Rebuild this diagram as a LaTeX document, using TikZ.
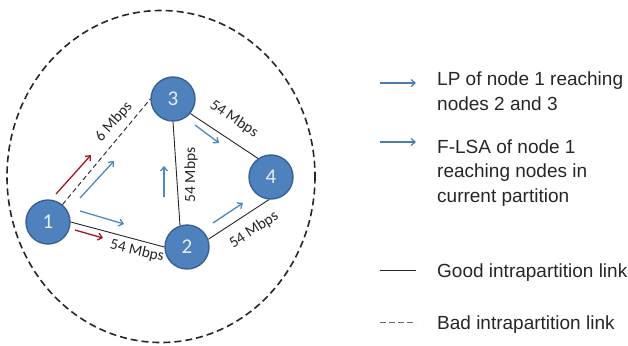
\documentclass[tikz,border=0pt]{standalone}
\usepackage{fontspec}
\setmainfont{Liberation Sans}
\newfontfamily\calib{Carlito}
\usetikzlibrary{arrows.meta}
\definecolor{nodefill}{RGB}{79,129,189}
\definecolor{nodedraw}{RGB}{56,98,148}
\definecolor{arrblue}{RGB}{74,138,190}
\definecolor{legblue}{RGB}{74,126,170}
\definecolor{arrred}{RGB}{170,20,30}
\definecolor{numcol}{RGB}{232,238,246}
\tikzset{
  netnode/.style={circle, minimum size=44pt, inner sep=0pt, fill=nodefill, draw=nodedraw, line width=1.4pt,
    font=\calib\fontsize{21}{21}\selectfont, text=numcol},
  goodlink/.style={draw=black!85, line width=0.9pt},
  badlink/.style={draw=black!85, line width=0.9pt, dash pattern=on 5pt off 3pt},
  lbl/.style={font=\calib\fontsize{15.5}{15.5}\selectfont, text=black!85, inner sep=0pt},
  bluearr/.style={draw=arrblue, line width=1.3pt, -{Straight Barb[length=4pt,width=7pt]}},
  redarr/.style={draw=arrred, line width=1.3pt, -{Straight Barb[length=4pt,width=7pt]}},
  legarr/.style={draw=legblue, line width=1.2pt, -{Straight Barb[length=4pt,width=7pt]}},
  legtxt/.style={font=\fontsize{19}{24.5}\selectfont, text=black!85, inner sep=0pt, anchor=base west, align=left},
}
\begin{document}
\begin{tikzpicture}[x=1pt,y=-1pt]
\useasboundingbox (0,0) rectangle (628,345);
% partition boundary
\draw[black!85, line width=1.6pt, dash pattern=on 7pt off 4pt] (161,176.5) ellipse [x radius=154, y radius=166];
% nodes
\node[netnode] (n1) at (48,222) {1};
\node[netnode] (n2) at (187,247) {2};
\node[netnode] (n3) at (173,99) {3};
\node[netnode] (n4) at (271,177) {4};
% links
\draw[goodlink] (n1.east) -- (n2.west);
\draw[badlink] (n1) -- (n3.west);
\draw[goodlink] (n3.south) -- (n2.108);
\draw[goodlink] (n3.-40) -- (n4.125);
\draw[goodlink] (n2.20) -- (n4.-95);
% link labels
\node[lbl, rotate=48] (l13) at (114,122) {6 Mbps};
\node[lbl, rotate=-13] (l12) at (137,251) {54 Mbps};
\node[lbl, rotate=90] (l32) at (191,175) {54 Mbps};
\node[lbl, rotate=-34] (l34) at (234,119) {54 Mbps};
\node[lbl, rotate=33] (l24) at (254,230) {54 Mbps};
% message arrows
\coordinate (r1s) at (56,194); \coordinate (r1e) at (91,155);
\coordinate (r2s) at (75,230); \coordinate (r2e) at (103,238);
\coordinate (b1s) at (80,198); \coordinate (b1e) at (114,161);
\coordinate (b2s) at (80,211); \coordinate (b2e) at (124,224);
\coordinate (b3s) at (164,197); \coordinate (b3e) at (164,166);
\coordinate (b4s) at (195,125); \coordinate (b4e) at (219,143);
\coordinate (b5s) at (213,223); \coordinate (b5e) at (243,203);
\draw[redarr] (r1s) -- (r1e);
\draw[redarr] (r2s) -- (r2e);
\draw[bluearr] (b1s) -- (b1e);
\draw[bluearr] (b2s) -- (b2e);
\draw[bluearr] (b3s) -- (b3e);
\draw[bluearr] (b4s) -- (b4e);
\draw[bluearr] (b5s) -- (b5e);
% legend
\coordinate (la1s) at (380,83); \coordinate (la1e) at (416,83);
\coordinate (la2s) at (380,142); \coordinate (la2e) at (416,142);
\coordinate (la3s) at (380,270); \coordinate (la3e) at (416,270);
\coordinate (la4s) at (380,322); \coordinate (la4e) at (416,322);
\draw[legarr] (la1s) -- (la1e);
\draw[legarr] (la2s) -- (la2e);
\draw[black!85, line width=1pt] (la3s) -- (la3e);
\draw[black!60, line width=1pt, dash pattern=on 6pt off 3pt] (la4s) -- (la4e);
\node[legtxt] (t1) at (437,110) {LP of node 1 reaching\\nodes 2 and 3};
\node[legtxt] (t2) at (437,202) {F-LSA of node 1\\reaching nodes in\\current partition};
\node[legtxt] (t3) at (437,277) {Good intrapartition link};
\node[legtxt] (t4) at (437,329) {Bad intrapartition link};
\end{tikzpicture}
\end{document}
